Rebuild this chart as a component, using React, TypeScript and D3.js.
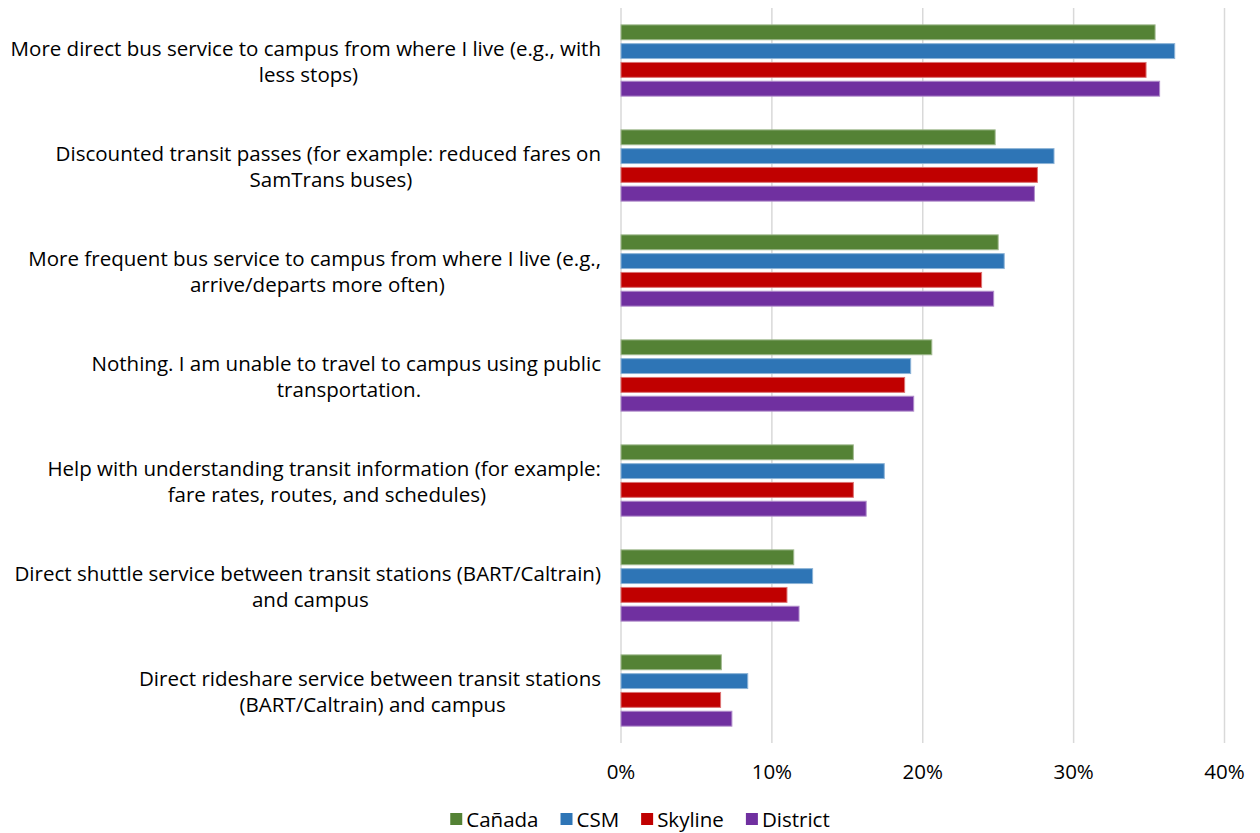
import React from "react";
import * as d3 from "d3";

const categoryLines: string[][] = [
  ["More direct bus service to campus from where I live (e.g., with ", "less stops)"],
  ["Discounted transit passes (for example: reduced fares on ", "SamTrans buses)"],
  ["More frequent bus service to campus from where I live (e.g., ", "arrive/departs more often)"],
  ["Nothing. I am unable to travel to campus using public ", "transportation."],
  ["Help with understanding transit information (for example: ", "fare rates, routes, and schedules)"],
  ["Direct shuttle service between transit stations (BART/Caltrain) ", "and campus"],
  ["Direct rideshare service between transit stations ", "(BART/Caltrain) and campus"],
];

const seriesNames = ["Cañada", "CSM", "Skyline", "District"];
const seriesColors = ["#548235", "#2E75B6", "#C00000", "#7030A0"];

const canada = [35.4, 24.8, 25.0, 20.6, 15.4, 11.45, 6.65];
const csm = [36.7, 28.7, 25.4, 19.2, 17.45, 12.7, 8.4];
const skyline = [34.8, 27.6, 23.9, 18.8, 15.4, 11.0, 6.6];
const district = [35.7, 27.4, 24.7, 19.4, 16.25, 11.8, 7.35];

const xTicks = [0, 10, 20, 30, 40];

const W = 1260;
const H = 833;
const FAMILY = "'Open Sans'";
const FONT = "'Open Sans', 'Noto Sans', sans-serif";

function measurer() {
  const c = document.createElement("canvas");
  const ctx = c.getContext("2d")!;
  return (t: string, size: number) => {
    ctx.font = `${size}px ${FAMILY}`;
    return ctx.measureText(t).width;
  };
}

export default function App() {
  const values = [canada, csm, skyline, district];
  const measure = measurer();

  const x = d3.scaleLinear().domain([0, 40]).range([621, 1224.5]);
  const y0 = d3
    .scaleBand<number>()
    .domain(d3.range(categoryLines.length))
    .range([8, 743])
    .paddingInner(0.284)
    .paddingOuter(0.142);
  const y1 = d3
    .scaleBand<number>()
    .domain(d3.range(seriesNames.length))
    .range([0, y0.bandwidth()])
    .paddingInner(0.207)
    .paddingOuter(0.1035);

  // font size fitted so the first label line spans the reference width (591px)
  const fs = (591 / measure(categoryLines[0][0].trimEnd(), 100)) * 100;
  const lineH = 26;
  const labelRight = 601 + measure(" ", fs);

  // legend layout
  const sq = 12;
  const legendGap = 22;
  const legendY = 819;
  const items = seriesNames.map((n) => ({ n, w: measure(n, fs) }));
  const totalW = d3.sum(items, (d) => sq + 4 + d.w) + legendGap * (items.length - 1);
  let lx = 640 - totalW / 2;
  const legendPos = items.map((d) => {
    const p = lx;
    lx += sq + 4 + d.w + legendGap;
    return p;
  });

  return (
    <svg width={W} height={H} style={{ position: "absolute", left: 0, top: 0, background: "#fff" }} fontFamily={FONT}>
      <rect width={W} height={H} fill="#fff" />
      {xTicks.map((t) => (
        <line key={t} x1={x(t)} x2={x(t)} y1={8} y2={743} stroke="#D9D9D9" strokeWidth={1.5} />
      ))}
      {categoryLines.map((lines, i) => {
        const bw = d3.max(lines, (l) => measure(l, fs))!;
        const cx = labelRight - bw / 2;
        const cy = y0(i)! - y0.step() * 0.142 + y0.step() / 2;
        return (
          <g key={i}>
            {lines.map((l, j) => (
              <text
                key={j}
                x={cx - (measure(l, fs) - measure(l.trimEnd(), fs)) / 2}
                y={cy + (j - (lines.length - 1) / 2) * lineH}
                textAnchor="middle"
                dominantBaseline="central"
                fontSize={fs}
                fill="#000"
              >
                {l.trimEnd()}
              </text>
            ))}
          </g>
        );
      })}
      {categoryLines.map((_, i) =>
        values.map((vals, s) => (
          <rect
            key={`${i}-${s}`}
            x={x(0)}
            y={y0(i)! + y1(s)!}
            width={x(vals[i]) - x(0)}
            height={y1.bandwidth()}
            fill={seriesColors[s]}
            stroke={d3.interpolateRgb(seriesColors[s], "#fff")(0.45)}
            strokeWidth={1}
          />
        ))
      )}
      {xTicks.map((t) => (
        <text key={t} x={x(t)} y={771} textAnchor="middle" dominantBaseline="central" fontSize={fs} fill="#000">
          {`${t}%`}
        </text>
      ))}
      {items.map((d, i) => (
        <g key={d.n}>
          <rect x={legendPos[i]} y={legendY - sq / 2} width={sq} height={sq} fill={seriesColors[i]} />
          <text x={legendPos[i] + sq + 4} y={legendY} dominantBaseline="central" fontSize={fs} fill="#000">
            {d.n}
          </text>
        </g>
      ))}
    </svg>
  );
}
